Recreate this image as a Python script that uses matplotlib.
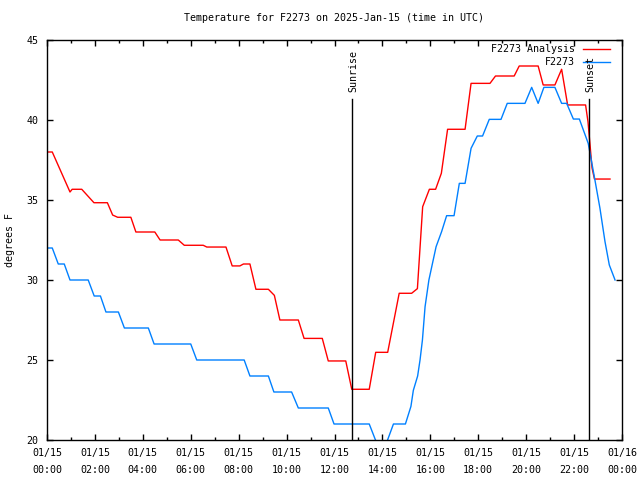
import numpy as np
import matplotlib
matplotlib.use("Agg")
import matplotlib.pyplot as plt
from matplotlib.ticker import MultipleLocator

# hours after 01/15 00:00 UTC and temperatures (F)
red_h = [0, 0.22, 0.96, 1.05, 1.45, 1.96, 2.52, 2.74, 2.95, 3.5, 3.71, 4.5, 4.72, 5.48, 5.73,
         6.52, 6.67, 7.47, 7.73, 8.05, 8.2, 8.47, 8.72, 9.24, 9.49, 9.72, 10.49, 10.73, 11.49,
         11.74, 12.47, 12.72, 13.45, 13.72, 14.22, 14.7, 15.22, 15.46, 15.68, 15.96, 16.22,
         16.46, 16.72, 17.45, 17.70, 18.49, 18.72, 19.5, 19.71, 20.5, 20.71, 21.2, 21.48,
         21.73, 22.48, 22.58, 22.68, 22.75, 22.85, 23.5]
red_v = [38.0, 38.0, 35.5, 35.67, 35.67, 34.83, 34.83, 34.06, 33.92, 33.92, 33.0, 33.0, 32.5,
         32.5, 32.17, 32.17, 32.06, 32.06, 30.88, 30.88, 31.0, 31.0, 29.42, 29.42, 29.04, 27.5,
         27.5, 26.35, 26.35, 24.94, 24.94, 23.17, 23.17, 25.48, 25.48, 29.17, 29.17, 29.46,
         34.58, 35.67, 35.67, 36.67, 39.42, 39.42, 42.29, 42.29, 42.75, 42.75, 43.375, 43.375,
         42.19, 42.19, 43.17, 40.94, 40.94, 39.9, 38.2, 37.0, 36.31, 36.31]

blue_h = [0, 0.22, 0.47, 0.72, 0.96, 1.72, 1.97, 2.23, 2.46, 2.98, 3.23, 4.23, 4.47, 6.0, 6.25,
          8.23, 8.47, 9.24, 9.47, 10.21, 10.49, 11.74, 11.98, 13.45, 13.97, 14.46, 14.96,
          15.19, 15.29, 15.47, 15.57, 15.67, 15.78, 15.94, 16.12, 16.24, 16.47, 16.68, 16.99,
          17.21, 17.45, 17.7, 17.96, 18.18, 18.46, 18.95, 19.21, 19.95, 20.23, 20.5, 20.74,
          21.2, 21.48, 21.69, 21.97, 22.22, 22.59, 22.73, 22.87, 23.08, 23.29, 23.47, 23.71]
blue_v = [32, 32, 31, 31, 30, 30, 29, 29, 28, 28, 27, 27, 26, 26, 25, 25, 24, 24, 23, 23, 22,
          22, 21, 21, 19, 21, 21, 22.1, 23.1, 24, 25, 26.25, 28.33, 30, 31.25, 32.08, 33.02,
          34.02, 34.02, 36.04, 36.04, 38.23, 39, 39, 40.04, 40.04, 41.04, 41.04, 42.04, 41.04,
          42.04, 42.04, 41.04, 41.04, 40.06, 40.06, 38.54, 37.4, 36.25, 34.48, 32.4, 30.94, 30.0]

sunrise = 12.73
sunset = 22.62
tick_hours = list(range(0, 25, 2))
tick_labels = ["01/15\n%02d:00" % h for h in range(0, 24, 2)] + ["01/16\n00:00"]

plt.rcParams['font.family'] = ['DejaVu Sans Mono']
plt.rcParams['font.size'] = 7.2

fig = plt.figure(figsize=(6.4, 4.8), dpi=100)
ax = fig.add_axes([47/640, 40/480, 575/640, 400/480])

ax.plot(red_h, red_v, color='#ff0000', lw=1)
ax.plot(blue_h, blue_v, color='#0080ff', lw=1)

ax.set_xlim(0, 24)
ax.set_ylim(20, 45)

top = (41.31 - 20) / 25
ax.axvline(sunrise, ymax=top, color='k', lw=1)
ax.axvline(sunset, ymax=top, color='k', lw=1)
ax.text(sunrise + 0.04, 41.75, "Sunrise", rotation=90, ha='center', va='bottom')
ax.text(sunset + 0.08, 41.75, "Sunset", rotation=90, ha='center', va='bottom')

# legend, gnuplot style (text right-aligned, sample on the right)
for lab, col, yy in [("F2273 Analysis", '#ff0000', 0.9775), ("F2273", '#0080ff', 0.945)]:
    ax.text(0.918, yy, lab, ha='right', va='center', transform=ax.transAxes)
    ax.plot([0.932, 0.979], [yy, yy], color=col, lw=1, transform=ax.transAxes)

ax.set_xticks(tick_hours)
ax.set_xticklabels(tick_labels, linespacing=1.8)
ax.xaxis.set_minor_locator(MultipleLocator(1))
ax.yaxis.set_major_locator(MultipleLocator(5))
ax.tick_params(which='both', direction='in', top=True, right=True, width=1, pad=6)
ax.tick_params(which='major', length=4.5)
ax.tick_params(which='minor', length=2.5)
for s in ax.spines.values():
    s.set_linewidth(1)

ax.set_ylabel("degrees F", va='center')
ax.yaxis.set_label_coords(-37/575, 0.5)
ax.set_title("Temperature for F2273 on 2025-Jan-15 (time in UTC)", fontsize=7.2, pad=14)

fig.savefig("out.png", dpi=100)
